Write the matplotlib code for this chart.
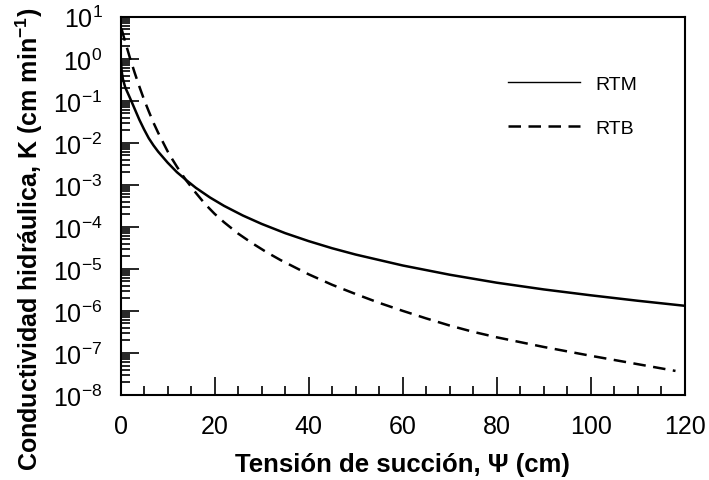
import numpy as np
import matplotlib.pyplot as plt
from matplotlib.ticker import MultipleLocator, LogLocator, NullFormatter

plt.rcParams['font.family'] = ['Liberation Sans', 'DejaVu Sans']
plt.rcParams['mathtext.default'] = 'regular'

# curve values (log10 K)
psi_rtm = [0, 0.25, 0.5, 1, 2, 3, 4, 5, 6, 7, 8, 10, 12, 14, 16, 19, 22, 26, 30,
           35, 40, 45, 50, 55, 60, 70, 80, 90, 100, 110, 120]
logk_rtm = [0.05, -0.3, -0.48, -0.68, -0.93, -1.19, -1.45, -1.68, -1.89, -2.06,
            -2.21, -2.47, -2.70, -2.89, -3.07, -3.30, -3.50, -3.73, -3.93,
            -4.15, -4.34, -4.51, -4.66, -4.79, -4.92, -5.14, -5.33, -5.49,
            -5.63, -5.76, -5.88]

psi_rtb = [0.2, 1, 2, 3, 4, 5, 6, 7, 8, 9, 10, 11, 12, 13, 14, 16, 18, 20, 22,
           25, 28, 31, 34, 37, 40, 45, 50, 55, 60, 65, 70, 75, 80, 90, 100, 110,
           118]
logk_rtb = [0.72, 0.4, 0.02, -0.33, -0.66, -0.97, -1.25, -1.52, -1.76, -1.98,
            -2.2, -2.39, -2.57, -2.74, -2.90, -3.19, -3.46, -3.69, -3.89, -4.16,
            -4.39, -4.60, -4.79, -4.96, -5.13, -5.38, -5.60, -5.81, -6.00,
            -6.18, -6.35, -6.50, -6.63, -6.86, -7.07, -7.27, -7.43]

k_rtm = 10 ** np.array(logk_rtm)
k_rtb = 10 ** np.array(logk_rtb)

fig = plt.figure(figsize=(7.09, 4.81), dpi=100)
ax = fig.add_axes([0.170, 0.177, 0.796, 0.786])

ax.plot(psi_rtm, k_rtm, color='black', lw=1.8, label='RTM')
ax.plot(psi_rtb, k_rtb, color='black', lw=1.8, ls=(0, (5, 3)), label='RTB')

ax.set_yscale('log')
ax.set_xlim(0, 120)
ax.set_ylim(1e-8, 1e1)
ax.xaxis.set_major_locator(MultipleLocator(20))
ax.xaxis.set_minor_locator(MultipleLocator(5))
ax.yaxis.set_major_locator(LogLocator(base=10, numticks=20))
ax.yaxis.set_minor_locator(LogLocator(base=10, subs=np.arange(2, 10), numticks=20))
ax.yaxis.set_minor_formatter(NullFormatter())

for s in ax.spines.values():
    s.set_linewidth(1.5)
ax.tick_params(which='both', direction='in', top=False, right=False,
               width=1.2, labelsize=18, colors='black')
ax.tick_params(which='major', length=13)
ax.tick_params(which='minor', length=6.5)
ax.tick_params(axis='x', pad=14)
ax.tick_params(axis='y', pad=13)

ax.set_xlabel('Tensión de succión, Ψ (cm)', fontsize=18.5, fontweight='bold', labelpad=10)
ax.set_ylabel('Conductividad hidráulica, K (cm min$^{-1}$)', fontsize=18,
              fontweight='bold')
ax.yaxis.set_label_coords(-0.134, 0.415)

leg = ax.legend(loc='upper left', bbox_to_anchor=(0.687, 0.846), frameon=False,
                fontsize=14, handlelength=3.7, handletextpad=0.77,
                labelspacing=1.37, borderpad=0, borderaxespad=0)
leg.get_lines()[0].set_linewidth(1.0)

fig.savefig('out.png', dpi=100)
